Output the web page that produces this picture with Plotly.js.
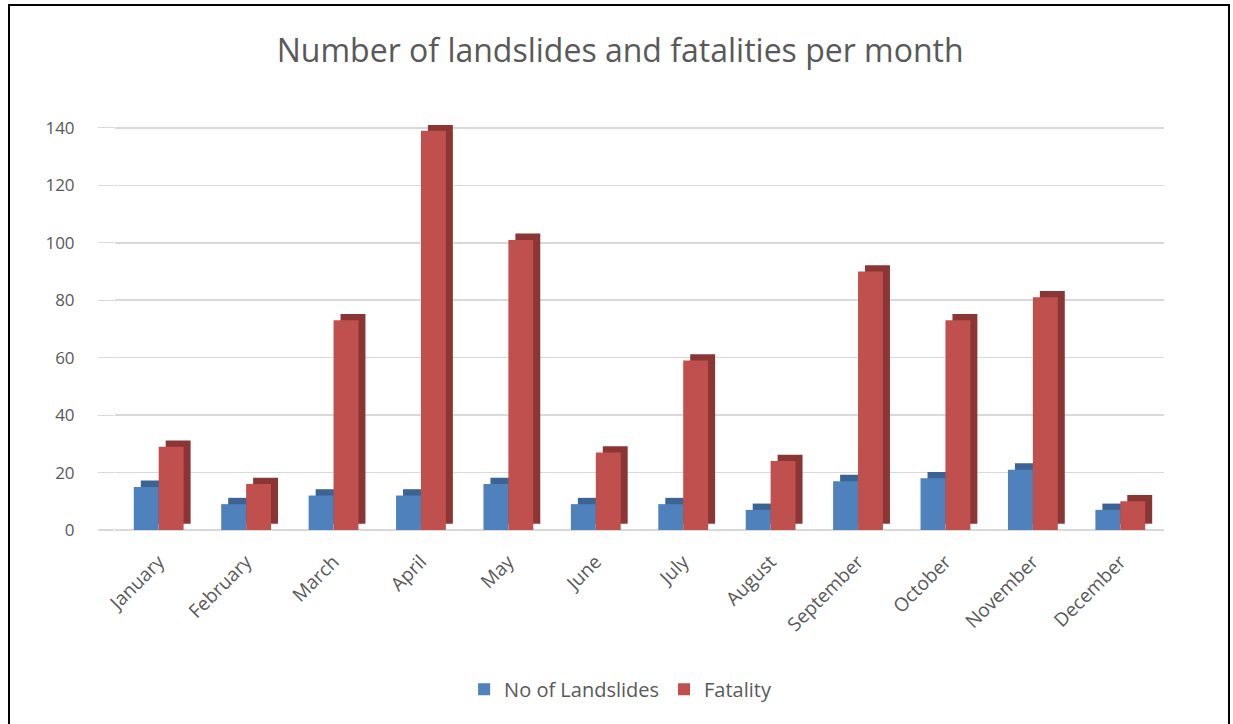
<!DOCTYPE html>
<html>
<head>
<meta charset="utf-8">
<script src="https://cdn.plot.ly/plotly-3.0.1.min.js"></script>
<style>
  html, body { margin: 0; padding: 0; background: #ffffff; overflow: hidden; }
  #chart { position: absolute; left: 0; top: 0; width: 1233px; height: 724px; }
  #frame { position: absolute; left: 8px; top: 4px; width: 1218px; height: 740px;
           border: 2px solid #000; pointer-events: none; }
</style>
</head>
<body>
<div id="chart"></div>
<div id="frame"></div>
<script>
const months = ["January","February","March","April","May","June","July","August","September","October","November","December"];
const landslides = [15, 9, 12, 12, 16, 9, 9, 7, 17, 18, 21, 7];
const fatality = [29, 16, 73, 139, 101, 27, 59, 24, 90, 73, 81, 10];
const tickValues = [0, 20, 40, 60, 80, 100, 120, 140];

const blue = "#4F81BD", blueDark = "#3B6494";
const red = "#C0504D", redDark = "#8A3634";
const W = 0.285, DX = 0.08, DY = 2.2;

function depth(vals, color, off) {
  return {
    type: "bar", x: months, y: vals, base: DY, width: W, offset: off + DX,
    marker: { color: color, line: { width: 0 } },
    showlegend: false, hoverinfo: "skip"
  };
}

const data = [
  depth(landslides, blueDark, -W),
  { type: "bar", name: "No of Landslides", x: months, y: landslides, width: W, offset: -W,
    marker: { color: blue, line: { width: 0 } } },
  depth(fatality, redDark, 0),
  { type: "bar", name: "Fatality", x: months, y: fatality, width: W, offset: 0,
    marker: { color: red, line: { width: 0 } } }
];

const layout = {
  width: 1233, height: 724,
  margin: { l: 115, r: 69, t: 125, b: 194 },
  paper_bgcolor: "#ffffff", plot_bgcolor: "#ffffff",
  barmode: "overlay",
  font: { family: "Open Sans, sans-serif", color: "#595959" },
  title: {
    text: "Number of landslides and fatalities per month",
    font: { family: "Open Sans, sans-serif", size: 32, color: "#595959" },
    x: 0.503, xanchor: "center", y: 0.93, yanchor: "middle"
  },
  xaxis: {
    type: "category", range: [-0.5, 11.5], tickangle: -45,
    tickfont: { size: 19, color: "#595959" },
    showgrid: false, zeroline: false, showline: false, ticks: "",
    ticklabelstandoff: 16
  },
  yaxis: {
    range: [0, 141], tickvals: tickValues, ticktext: tickValues.map(String),
    tickfont: { size: 17, color: "#595959" },
    showgrid: true, gridcolor: "#d9d9d9", gridwidth: 1.5,
    zeroline: true, zerolinecolor: "#d9d9d9", zerolinewidth: 1.5,
    ticks: "outside", ticklen: 16, tickcolor: "#d9d9d9", tickwidth: 1.2,
    showline: false, ticklabelstandoff: 20
  },
  legend: {
    orientation: "h", x: 0.482, xanchor: "center", y: -0.393, yanchor: "middle",
    font: { size: 20, color: "#595959" }, traceorder: "normal", itemwidth: 30
  },
  showlegend: true
};

Plotly.newPlot("chart", data, layout, { displayModeBar: false, staticPlot: true });
</script>
</body>
</html>
